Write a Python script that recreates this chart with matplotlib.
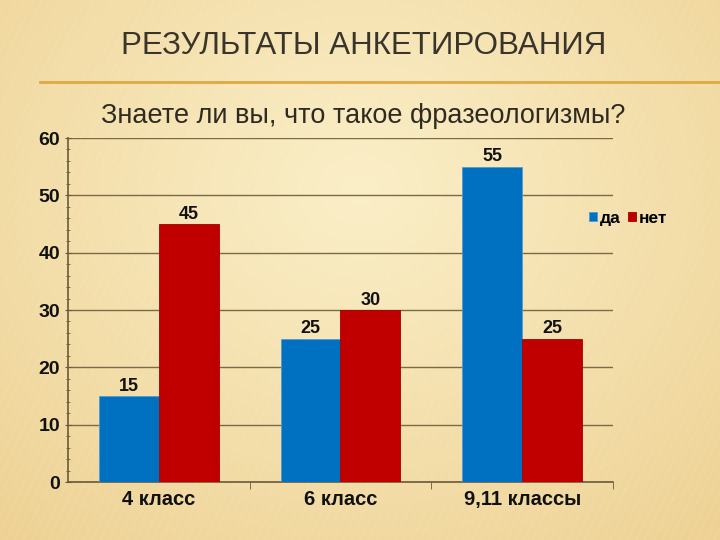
import matplotlib.pyplot as plt
import numpy as np
from matplotlib.ticker import MultipleLocator

# data
categories = ['4 класс', '6 класс', '9,11 классы']
yes_values = [15, 25, 55]
no_values = [45, 30, 25]
series_names = ['да', 'нет']

title = 'РЕЗУЛЬТАТЫ АНКЕТИРОВАНИЯ'
subtitle = 'Знаете ли вы, что такое фразеологизмы?'

plt.rcParams['font.family'] = ['Liberation Sans', 'DejaVu Sans']

fig = plt.figure(figsize=(7.2, 5.4), dpi=100)

# background gradient (slide style)
bg = fig.add_axes([0, 0, 1, 1], zorder=-10)
yy, xx = np.mgrid[0:1:270j, 0:1:360j]
r = np.sqrt(((xx - 0.5) / 0.75) ** 2 + ((yy - 0.35) / 0.85) ** 2)
r = np.clip(r, 0, 1)
c_in = np.array([0xfb, 0xef, 0xc8]) / 255
c_out = np.array([0xee, 0xd2, 0x94]) / 255
img = c_in[None, None, :] * (1 - r[..., None]) + c_out[None, None, :] * r[..., None]
bg.imshow(img, aspect='auto', extent=[0, 1, 0, 1], origin='upper')
# faint diagonal streaks
for k in np.arange(-1.0, 1.0, 0.012):
    bg.plot([k, k + 0.35], [0, 1], color='white', alpha=0.08, lw=1)
bg.set_xlim(0, 1)
bg.set_ylim(0, 1)
bg.axis('off')

# slide title and rule
fig.text(0.505, 0.915, title, ha='center', va='center', fontsize=22.5,
         color='#3a352b')
fig.add_artist(plt.Line2D([0.055, 1.0], [0.848, 0.848], color='#e0a843', lw=2))
fig.text(0.504, 0.785, subtitle, ha='center', va='center', fontsize=19.5,
         color='#2f2a22')

ax = fig.add_axes([0.0944, 0.1074, 0.757, 0.637])
ax.patch.set_alpha(0)

x = np.arange(len(categories))
w = 0.33
b1 = ax.bar(x - w / 2, yes_values, w, color='#0070c0', edgecolor='#4f9ad6', lw=0.6,
            label=series_names[0], zorder=3)
b2 = ax.bar(x + w / 2, no_values, w, color='#c00000', edgecolor='#a00000', lw=0.6,
            label=series_names[1], zorder=3)

for bars in (b1, b2):
    ax.bar_label(bars, padding=1, fontsize=13, fontweight='bold', color='#111111')

ax.set_xlim(-0.5, 2.5)
ax.set_ylim(0, 60)
ax.yaxis.set_major_locator(MultipleLocator(10))
ax.yaxis.set_minor_locator(MultipleLocator(2))
ax.grid(axis='y', color='#7a6a45', lw=1, zorder=0)

ax.set_xticks(x)
ax.set_xticklabels(categories, fontsize=14.5, fontweight='bold', color='#111111')
ax.set_xticks([0.5, 1.5, 2.5], minor=True)
ax.tick_params(axis='x', which='major', length=0, pad=6)
ax.tick_params(axis='x', which='minor', length=5, color='#6b5a3a', direction='out')
ax.tick_params(axis='y', which='major', labelsize=14, length=5, color='#6b5a3a',
               direction='inout', pad=3)
ax.tick_params(axis='y', which='minor', length=3, color='#6b5a3a', direction='inout')
for lbl in ax.get_yticklabels():
    lbl.set_fontweight('bold')
    lbl.set_color('#111111')

for side in ('top', 'right'):
    ax.spines[side].set_visible(False)
for side in ('left', 'bottom'):
    ax.spines[side].set_color('#6b5a3a')
    ax.spines[side].set_linewidth(1.2)

leg = fig.legend(loc='center left', bbox_to_anchor=(0.796, 0.596), ncol=2, frameon=False,
                 handlelength=0.5, handleheight=0.5, handletextpad=0.15,
                 columnspacing=0.4, prop={'weight': 'bold', 'size': 12.5})

fig.savefig('out.png', dpi=100)
